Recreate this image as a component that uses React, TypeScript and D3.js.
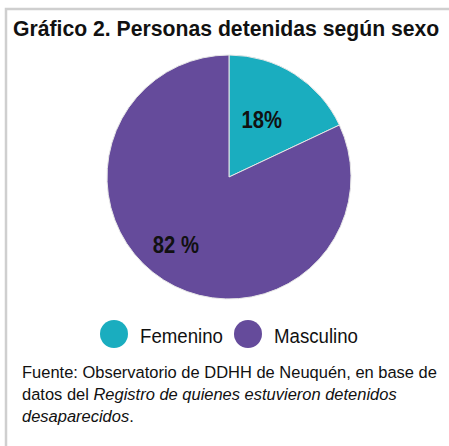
import { useEffect, useRef } from "react";
import * as d3 from "d3";

const categories = ["Femenino", "Masculino"];
const values = [18, 82];
const labels = ["18%", "82 %"];
const colors = ["#1aadbf", "#654b9b"];
const title = "Gráfico 2. Personas detenidas según sexo";

const W = 449;
const H = 446;
const FONT = "Liberation Sans, Arial, sans-serif";

export default function App() {
  const svgRef = useRef<SVGSVGElement>(null);

  useEffect(() => {
    const svg = d3.select(svgRef.current);
    svg.selectAll("*").remove();

    svg.append("rect").attr("width", W).attr("height", H).attr("fill", "#fff");

    // marco gris (solo arriba e izquierda)
    svg
      .append("path")
      .attr("d", `M6,${H} V9 H${W}`)
      .attr("fill", "none")
      .attr("stroke", "#cfcfcf")
      .attr("stroke-width", 2.5);

    svg
      .append("text")
      .attr("x", 13)
      .attr("y", 36)
      .attr("font-family", FONT)
      .attr("font-weight", "bold")
      .attr("font-size", 21.2)
      .attr("fill", "#111")
      .text(title);

    const cx = 229;
    const cy = 177;
    const r = 122;

    const pie = d3.pie<number>().sort(null)(values);
    const arc = d3.arc<d3.PieArcDatum<number>>().innerRadius(0).outerRadius(r);

    const g = svg.append("g").attr("transform", `translate(${cx},${cy})`);
    g.selectAll("path")
      .data(pie)
      .enter()
      .append("path")
      .attr("d", arc)
      .attr("fill", (_, i) => colors[i])
      .attr("stroke", "#e6e6e6")
      .attr("stroke-width", 1);

    // etiquetas: centroide a cierta fracción del radio, con pequeño ajuste
    const labelPos = [
      { k: 0.5, dx: 0, dy: -6 },
      { k: 0.72, dx: -6, dy: -6 },
    ];
    g.selectAll("text.lbl")
      .data(pie)
      .enter()
      .append("text")
      .attr("class", "lbl")
      .attr("transform", (d, i) => {
        const p = labelPos[i];
        const la = d3.arc<d3.PieArcDatum<number>>().innerRadius(r * p.k).outerRadius(r * p.k);
        const [x, y] = la.centroid(d);
        return `translate(${x + p.dx},${y + p.dy}) scale(0.88,1)`;
      })
      .attr("text-anchor", "middle")
      .attr("dy", "0.36em")
      .attr("font-family", FONT)
      .attr("font-weight", "bold")
      .attr("font-size", 23)
      .attr("fill", "#111")
      .text((_, i) => labels[i]);

    // leyenda
    const legendX = [114, 248];
    const legendW = [83, 84];
    const leg = svg
      .selectAll("g.leg")
      .data(categories)
      .enter()
      .append("g")
      .attr("class", "leg")
      .attr("transform", (_, i) => `translate(${legendX[i]},334)`);
    leg.append("circle").attr("r", 14).attr("fill", (_, i) => colors[i]);
    leg
      .append("text")
      .attr("x", 26)
      .attr("y", 8.5)
      .attr("font-family", FONT)
      .attr("font-size", 20.5)
      .attr("textLength", (_, i) => legendW[i])
      .attr("lengthAdjust", "spacingAndGlyphs")
      .attr("fill", "#111")
      .text((d) => d);

    // fuente
    const foot = svg
      .append("text")
      .attr("transform", "translate(22,0) scale(0.97,1)")
      .attr("font-family", FONT)
      .attr("font-size", 17)
      .attr("fill", "#111");
    foot
      .append("tspan")
      .attr("x", 0)
      .attr("y", 378)
      .text("Fuente: Observatorio de DDHH de Neuquén, en base de");
    foot.append("tspan").attr("x", 0).attr("y", 400).text("datos del ");
    foot
      .append("tspan")
      .attr("font-style", "italic")
      .text("Registro de quienes estuvieron detenidos");
    foot
      .append("tspan")
      .attr("x", 0)
      .attr("y", 422)
      .attr("font-style", "italic")
      .text("desaparecidos");
    foot.append("tspan").text(".");
  }, []);

  return (
    <svg
      ref={svgRef}
      width={W}
      height={H}
      style={{ position: "absolute", left: 0, top: 0 }}
    ></svg>
  );
}
